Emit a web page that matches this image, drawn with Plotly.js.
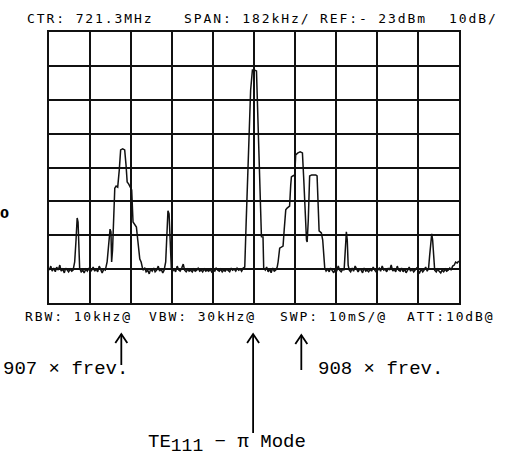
<!DOCTYPE html>
<html>
<head>
<meta charset="utf-8">
<script src="https://cdn.plot.ly/plotly-3.0.1.min.js"></script>
<style>
html,body{margin:0;padding:0;background:#fff;}
#chart{width:508px;height:457px;}
</style>
</head>
<body>
<div id="chart"></div>
<script>
// Spectrum analyzer settings (tick/label values)
const centerMHz = 721.3;
const spanPerDivKHz = 182;
const refLevelDBm = -23;
const dbPerDiv = 10;
const headerLabels = ['CTR: 721.3MHz', 'SPAN: 182kHz/', 'REF:- 23dBm', '10dB/'];
const footerLabels = ['RBW: 10kHz@', 'VBW: 30kHz@', 'SWP: 10mS/@', 'ATT:10dB@'];
const markerLabels = ['907 × frev.', '908 × frev.', 'TE<sub><span style="font-size:18px">111</span></sub> − π Mode'];
const markerFreqKHz = [-589, -4, 210];   // arrow positions, offsets from centre frequency

// Trace: frequency offset from centre (kHz) and level (dBm)
const freqKHz = [
 -909,-902,-896,-889,-882,-876,-869,-862,-856,-849,-842,-836,-829,-823,-816,-809,-803,
 -796,-790,-785,-781,-778,-774,
 -767,-760,-754,-747,-740,-734,-727,-720,-714,-707,-700,-694,-687,-680,-674,-667,-660,
 -652,-645,-639,-635,-632,-628,-623,-618,-612,-605,-598,-592,-583,-574,-568,-563,-556,-550,-543,-537,-530,-522,-516,-507,-501,-493,
 -485,-479,-472,-465,-459,-452,-445,-439,-432,-425,-419,-412,-405,-399,
 -392,-386,-382,-377,-372,-367,
 -361,-354,-348,-341,-334,-328,-321,-314,-308,-301,-294,-288,-281,-274,-268,-261,-254,-248,-241,-234,-228,-221,-214,-208,-201,-194,-188,-181,-174,-168,-161,-154,-148,-141,-135,-128,-121,-115,-108,-101,-95,-88,-81,-75,-68,-61,-55,-48,-41,
 -35,-28,-21,-15,-7,1,11,16,23,30,33,40,43,
 50,56,63,70,76,83,90,96,103,
 107,114,121,129,134,141,147,154,158,163,166,172,181,185,195,205,215,221,227,233,236,241,247,256,265,274,280,284,289,299,305,314,
 320,327,334,340,347,354,360,367,374,380,387,394,400,
 405,410,414,418,423,
 429,436,442,449,456,462,469,476,482,489,496,502,509,516,522,529,536,542,549,556,562,569,576,582,589,596,602,609,616,622,629,636,642,649,655,662,669,675,682,689,695,702,709,715,722,729,735,742,749,755,762,769,775,
 780,784,789,793,798,802,
 809,815,822,829,835,842,849,855,862,869,875,882,889,895,902,909
];
const levelDBm = [
 -93.3,-92.1,-93.6,-92.7,-93.8,-92.4,-93.3,-91.8,-93.6,-93.0,-94.1,-92.7,-93.3,-93.8,-93.0,-93.6,-93.3,
 -90.9,-84.4,-77.9,-79.1,-87.4,-92.7,
 -93.8,-93.3,-94.1,-93.0,-93.6,-92.7,-93.8,-93.3,-92.4,-93.6,-93.0,-93.8,-92.1,-93.3,-94.1,-93.0,-93.3,
 -90.9,-84.4,-81.2,-82.0,-90.9,-87.4,-74.1,-69.1,-68.5,-68.8,-63.7,-57.8,-57.5,-57.8,-62.3,-67.3,-67.9,-68.5,-69.6,-79.1,-79.7,-80.6,-84.4,-90.0,-90.9,-93.3,
 -92.7,-93.8,-93.3,-94.4,-93.0,-93.6,-92.7,-93.8,-93.3,-92.1,-93.6,-93.0,-94.1,-93.3,
 -90.9,-80.0,-75.8,-76.7,-85.9,-92.7,
 -93.6,-93.0,-93.8,-92.1,-93.3,-93.6,-92.7,-91.5,-93.3,-93.8,-93.0,-93.6,-93.3,-93.8,-93.0,-93.6,-93.3,-92.7,-93.6,-93.3,-93.8,-93.0,-93.6,-93.3,-93.6,-93.0,-93.8,-93.3,-93.6,-92.7,-93.3,-93.6,-93.0,-93.8,-93.3,-93.6,-93.0,-93.3,-93.8,-92.7,-93.3,-93.0,-93.6,-92.7,-93.3,-93.0,-93.6,-92.7,-92.4,
 -79.6,-66.4,-53.3,-40.2,-34.2,-34.2,-34.5,-47.0,-61.7,-76.4,-83.4,-83.5,-92.7,
 -93.3,-92.4,-93.8,-93.0,-94.1,-92.7,-93.6,-93.3,-92.4,
 -90.9,-86.8,-86.5,-86.2,-81.4,-75.5,-75.0,-74.7,-74.4,-68.2,-65.8,-65.5,-65.2,-59.3,-58.7,-58.4,-58.7,-66.7,-78.5,-84.4,-85.0,-78.5,-65.5,-65.2,-65.2,-65.2,-65.5,-75.5,-81.7,-82.3,-84.4,-92.7,
 -93.6,-93.0,-93.8,-92.7,-93.3,-94.1,-93.0,-93.6,-92.1,-93.3,-93.8,-93.0,-93.3,
 -88.8,-82.0,-84.4,-91.8,-93.3,
 -93.8,-92.7,-93.6,-92.1,-93.3,-93.8,-93.0,-93.3,-94.1,-92.7,-93.6,-93.3,-93.8,-93.0,-93.6,-92.4,-93.3,-93.8,-93.3,-92.7,-93.6,-92.1,-93.3,-93.0,-93.8,-92.7,-93.3,-91.8,-93.6,-93.0,-93.8,-92.1,-93.3,-93.6,-92.7,-93.8,-93.0,-94.1,-93.3,-92.4,-93.6,-93.0,-93.8,-93.3,-92.7,-93.6,-94.1,-93.0,-93.8,-93.3,-92.4,-93.6,-92.7,
 -88.8,-84.4,-82.6,-84.4,-92.1,-93.3,
 -93.8,-93.0,-93.6,-94.1,-93.3,-93.8,-93.0,-93.6,-93.3,-92.7,-93.3,-92.1,-91.8,-90.9,-91.2,-90.6
];

// ---- layout helpers (pixel -> paper) ----
const W = 508, H = 457, L = 49, R = 49, T = 32, B = 154;
const PW = W - L - R, PH = H - T - B;
const pxX = p => (p - L) / PW;
const pxY = p => (H - B - p) / PH;

const freqMHz = freqKHz.map(k => centerMHz + k / 1000);
const halfSpanMHz = 5 * spanPerDivKHz / 1000;

const dotFont = {family: 'DejaVu Sans Mono', size: 13, color: '#000'};
const typeFont = {family: 'Liberation Mono', size: 19, color: '#000'};
const sp = s => '<span style="letter-spacing:1.9px">' + s + '</span>';

const annotations = [];
const headerX = [25, 181.7, 318, 447];
headerLabels.forEach((t, i) => annotations.push({
  text: sp(t), xref: 'paper', yref: 'paper', x: pxX(headerX[i]), y: pxY(18.5),
  xanchor: 'left', yanchor: 'middle', showarrow: false, font: dotFont
}));
const footerX = [22.7, 146.7, 277.7, 405];
footerLabels.forEach((t, i) => annotations.push({
  text: sp(t), xref: 'paper', yref: 'paper', x: pxX(footerX[i]), y: pxY(316.5),
  xanchor: 'left', yanchor: 'middle', showarrow: false, font: dotFont
}));
const labelPos = [[1, 369], [316, 369], [146, 444]];
markerLabels.forEach((t, i) => annotations.push({
  text: t, xref: 'paper', yref: 'paper', x: pxX(labelPos[i][0]), y: pxY(labelPos[i][1]),
  xanchor: 'left', yanchor: 'middle', showarrow: false, font: typeFont
}));
annotations.push({
  text: '<b>0</b>', xref: 'paper', yref: 'paper', x: pxX(4.5), y: pxY(213.5),
  xanchor: 'center', yanchor: 'middle', showarrow: false,
  font: {family: 'DejaVu Sans', size: 13, color: '#000'}
});

// arrows drawn as shapes: shaft + open chevron head
const arrowTipY = [334, 334, 335];
const arrowTailY = [365, 433, 370];
const shapes = [];
markerFreqKHz.forEach((k, i) => {
  const fx = centerMHz + k / 1000;
  shapes.push({
    type: 'line', xref: 'x', yref: 'paper', x0: fx, x1: fx,
    y0: pxY(arrowTipY[i]), y1: pxY(arrowTailY[i]),
    line: {color: '#000', width: 1.8}
  });
  shapes.push({
    type: 'path', xref: 'x', yref: 'paper', xsizemode: 'pixel', ysizemode: 'pixel',
    xanchor: fx, yanchor: pxY(arrowTipY[i]),
    path: 'M-6,-9L0,0L6,-9', line: {color: '#000', width: 1.8}
  });
});

const data = [{
  x: freqMHz, y: levelDBm, type: 'scatter', mode: 'lines',
  line: {color: '#111', width: 1.5}, hoverinfo: 'skip'
}];

const layout = {
  width: W, height: H,
  margin: {l: L, r: R, t: T, b: B, pad: 0},
  paper_bgcolor: '#fff', plot_bgcolor: '#fff',
  showlegend: false,
  xaxis: {
    range: [centerMHz - halfSpanMHz, centerMHz + halfSpanMHz],
    tick0: centerMHz - halfSpanMHz, dtick: spanPerDivKHz / 1000,
    showgrid: true, gridcolor: '#111', gridwidth: 1.6,
    showticklabels: false, ticks: '', zeroline: false,
    showline: true, mirror: true, linecolor: '#111', linewidth: 2
  },
  yaxis: {
    range: [refLevelDBm - 8 * dbPerDiv, refLevelDBm],
    tick0: refLevelDBm, dtick: dbPerDiv,
    showgrid: true, gridcolor: '#111', gridwidth: 2,
    showticklabels: false, ticks: '', zeroline: false,
    showline: true, mirror: true, linecolor: '#111', linewidth: 2
  },
  shapes: shapes,
  annotations: annotations
};

Plotly.newPlot('chart', data, layout, {staticPlot: true, displayModeBar: false});
</script>
</body>
</html>
